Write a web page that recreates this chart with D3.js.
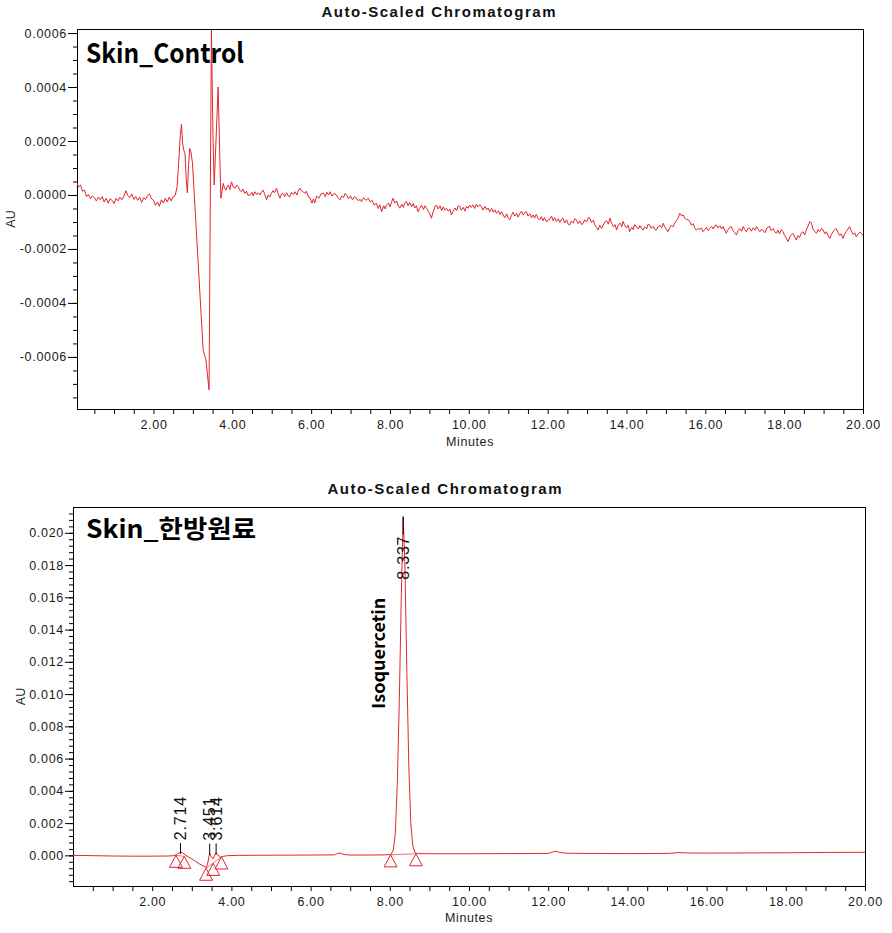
<!DOCTYPE html>
<html><head><meta charset="utf-8">
<script src="https://cdn.jsdelivr.net/npm/d3@7/dist/d3.min.js"></script>
<style>body{margin:0;background:#fff}svg{display:block}</style>
</head><body><svg id="c" width="892" height="933"></svg>
<script>
// ---------------- data ----------------
const chartTitle = "Auto-Scaled Chromatogram";
const panelNames = ["Skin_Control", "Skin_한방원료"];
const xAxisTitle = "Minutes";
const yAxisTitle = "AU";
const xLabelTicks = [2, 4, 6, 8, 10, 12, 14, 16, 18, 20];
const controlYTicks = [-0.0006, -0.0004, -0.0002, 0.0000, 0.0002, 0.0004, 0.0006];
const sampleYTicks = [0.000, 0.002, 0.004, 0.006, 0.008, 0.010, 0.012, 0.014, 0.016, 0.018, 0.020];

// Skin_Control trace: [minutes, signal in µAU]
const controlTrace = [
[0.06,44],[0.1,30],[0.15,36],[0.2,14],[0.25,18],[0.3,-6],[0.35,2],[0.4,-14],[0.45,-4],[0.5,-10],
[0.55,-22],[0.6,-8],[0.65,-18],[0.7,-6],[0.75,-26],[0.8,-12],[0.85,-30],[0.9,-14],[0.95,-20],[1.0,-32],
[1.05,-12],[1.1,-22],[1.15,-8],[1.2,-18],[1.25,-4],[1.3,16],[1.35,-2],[1.4,-10],[1.45,4],[1.5,-16],
[1.55,-6],[1.6,-20],[1.65,-8],[1.7,-28],[1.75,-10],[1.8,-16],[1.85,-2],[1.9,4],[1.95,-14],[2.0,-20],
[2.05,-38],[2.1,-26],[2.15,-42],[2.2,-18],[2.25,-30],[2.3,-12],[2.35,-26],[2.4,-8],[2.45,-22],[2.5,-6],
[2.55,-2],[2.6,30],[2.64,120],[2.68,220],[2.71,262],[2.74,190],[2.77,165],[2.8,155],[2.83,60],[2.86,8],
[2.89,110],[2.92,172],[2.95,160],[2.99,118],[3.26,-574],[3.33,-610],[3.41,-722],[3.47,610],[3.51,220],[3.54,37],
[3.58,180],[3.64,400],[3.68,160],[3.71,-12],[3.77,43],[3.8,26],[3.84,18],[3.87,30],[3.9,37],[3.94,20],
[3.98,49],[4.02,30],[4.07,25],[4.11,36],[4.15,31],[4.19,18],[4.23,12],[4.27,22],[4.32,6],[4.36,14],
[4.4,-2],[4.45,0],[4.5,10],[4.53,-4],[4.57,12],[4.62,2],[4.66,8],[4.7,0],[4.74,10],[4.78,18],
[4.82,4],[4.87,-18],[4.91,0],[4.95,-8],[4.99,6],[5.03,16],[5.07,8],[5.12,25],[5.16,6],[5.21,-12],
[5.25,4],[5.29,6],[5.33,-6],[5.38,8],[5.42,-4],[5.46,-6],[5.5,10],[5.55,2],[5.59,12],[5.64,0],
[5.67,14],[5.71,25],[5.75,16],[5.8,12],[5.84,6],[5.88,14],[5.93,-8],[5.97,-10],[6.02,-30],[6.06,-14],
[6.09,-30],[6.14,-4],[6.2,-12],[6.25,4],[6.31,7],[6.36,-6],[6.4,10],[6.44,0],[6.48,12],[6.53,-4],
[6.58,6],[6.64,0],[6.68,-10],[6.73,-18],[6.78,-4],[6.82,-10],[6.86,6],[6.9,0],[6.95,-14],[7.0,-4],
[7.05,-18],[7.1,-6],[7.15,-12],[7.2,-22],[7.24,-16],[7.28,-25],[7.33,-10],[7.39,-20],[7.45,-12],[7.5,-26],
[7.55,-20],[7.6,-38],[7.65,-30],[7.7,-50],[7.74,-36],[7.79,-62],[7.84,-40],[7.88,-52],[7.91,-37],[7.96,-30],
[8.0,-44],[8.04,-26],[8.08,-12],[8.12,-30],[8.17,-22],[8.21,-40],[8.25,-49],[8.3,-34],[8.34,-46],[8.38,-28],
[8.42,-25],[8.46,-40],[8.5,-28],[8.55,-44],[8.59,-31],[8.63,-48],[8.67,-40],[8.71,-62],[8.75,-50],[8.8,-38],
[8.85,-54],[8.89,-40],[8.93,-49],[8.97,-60],[9.01,-70],[9.05,-86],[9.1,-60],[9.14,-44],[9.18,-37],[9.22,-52],
[9.27,-40],[9.31,-58],[9.35,-44],[9.39,-56],[9.43,-49],[9.48,-60],[9.52,-52],[9.56,-74],[9.6,-60],[9.65,-48],
[9.69,-58],[9.73,-40],[9.77,-43],[9.81,-56],[9.86,-46],[9.9,-60],[9.94,-42],[9.98,-49],[10.02,-38],[10.06,-46],
[10.11,-37],[10.15,-50],[10.19,-34],[10.23,-44],[10.28,-36],[10.32,-43],[10.36,-56],[10.41,-42],[10.45,-55],[10.49,-48],
[10.53,-62],[10.58,-50],[10.62,-64],[10.66,-55],[10.7,-68],[10.75,-58],[10.79,-72],[10.83,-62],[10.87,-74],[10.91,-84],
[10.96,-70],[11.0,-86],[11.04,-92],[11.08,-76],[11.12,-64],[11.17,-78],[11.21,-68],[11.25,-82],[11.29,-70],[11.34,-60],
[11.38,-74],[11.42,-66],[11.46,-62],[11.5,-78],[11.55,-70],[11.59,-84],[11.63,-74],[11.67,-86],[11.71,-72],[11.76,-88],
[11.8,-92],[11.84,-80],[11.88,-96],[11.92,-84],[11.97,-100],[12.01,-92],[12.05,-90],[12.1,-78],[12.14,-96],[12.18,-84],
[12.22,-98],[12.27,-88],[12.31,-102],[12.35,-90],[12.39,-86],[12.43,-104],[12.48,-92],[12.52,-108],[12.56,-111],[12.6,-96],
[12.65,-104],[12.69,-88],[12.73,-92],[12.77,-106],[12.82,-96],[12.86,-110],[12.9,-105],[12.94,-92],[12.99,-100],[13.03,-84],
[13.07,-86],[13.11,-102],[13.16,-94],[13.2,-112],[13.24,-120],[13.28,-130],[13.32,-112],[13.37,-124],[13.41,-111],[13.45,-100],
[13.5,-96],[13.54,-108],[13.58,-86],[13.62,-104],[13.67,-118],[13.71,-110],[13.75,-130],[13.79,-112],[13.84,-104],[13.88,-118],
[13.91,-98],[13.96,-114],[14.0,-122],[14.04,-112],[14.08,-136],[14.13,-120],[14.17,-128],[14.21,-110],[14.25,-117],[14.3,-126],
[14.34,-114],[14.38,-124],[14.42,-130],[14.46,-118],[14.51,-126],[14.55,-108],[14.59,-111],[14.63,-124],[14.68,-116],[14.72,-128],
[14.76,-130],[14.8,-118],[14.85,-112],[14.89,-122],[14.93,-105],[14.97,-118],[15.01,-126],[15.05,-136],[15.1,-120],[15.14,-112],
[15.18,-118],[15.22,-105],[15.26,-96],[15.31,-86],[15.35,-68],[15.39,-76],[15.44,-74],[15.48,-86],[15.52,-92],[15.56,-90],
[15.6,-98],[15.65,-112],[15.69,-106],[15.73,-122],[15.77,-130],[15.82,-124],[15.86,-128],[15.9,-122],[15.94,-136],[15.99,-128],
[16.03,-120],[16.07,-132],[16.11,-124],[16.16,-116],[16.2,-126],[16.24,-114],[16.28,-111],[16.32,-122],[16.37,-114],[16.41,-126],
[16.45,-117],[16.49,-130],[16.53,-142],[16.58,-128],[16.62,-120],[16.66,-117],[16.7,-132],[16.75,-140],[16.79,-148],[16.83,-132],
[16.87,-124],[16.92,-134],[16.96,-117],[17.0,-128],[17.04,-136],[17.09,-122],[17.13,-124],[17.17,-134],[17.21,-122],[17.26,-130],
[17.3,-117],[17.34,-126],[17.38,-136],[17.42,-128],[17.46,-130],[17.51,-140],[17.55,-126],[17.59,-118],[17.63,-117],[17.67,-132],
[17.72,-124],[17.76,-136],[17.8,-142],[17.84,-130],[17.88,-144],[17.93,-128],[17.97,-136],[18.01,-150],[18.06,-162],[18.1,-173],
[18.14,-156],[18.18,-148],[18.22,-142],[18.27,-156],[18.31,-167],[18.35,-150],[18.39,-158],[18.44,-140],[18.48,-136],[18.52,-148],
[18.56,-130],[18.6,-118],[18.65,-98],[18.69,-104],[18.73,-126],[18.77,-134],[18.82,-142],[18.86,-128],[18.9,-136],[18.95,-124],
[18.99,-130],[19.03,-144],[19.07,-136],[19.12,-152],[19.16,-161],[19.2,-146],[19.24,-136],[19.28,-128],[19.32,-124],[19.37,-140],
[19.41,-150],[19.45,-144],[19.49,-161],[19.53,-146],[19.58,-134],[19.62,-126],[19.66,-117],[19.7,-132],[19.75,-146],[19.79,-140],
[19.83,-155],[19.87,-146],[19.92,-138],[19.96,-142],[20.0,-150]
];

// Skin_한방원료 trace: [minutes, AU]
const sampleTrace = [
[0.0,0.00000],[0.5,-0.00002],[1.0,-0.00004],[1.5,-0.00005],[2.0,-0.00005],[2.4,-0.00004],[2.55,-0.00002],
[2.62,0.00006],[2.68,0.00016],[2.72,0.00020],[2.77,0.00015],[2.83,0.00004],[2.9,-0.00008],[3.0,-0.00022],
[3.1,-0.00038],[3.2,-0.00054],[3.3,-0.00068],[3.37,-0.00075],[3.41,-0.00040],[3.45,0.00014],[3.49,-0.00008],
[3.54,-0.00022],[3.58,0.00002],[3.61,0.00016],[3.66,0.00002],[3.72,-0.00010],[3.8,-0.00006],[3.9,-0.00002],
[4.2,0.00000],[5.0,0.00001],[6.0,0.00002],[6.6,0.00003],[6.68,0.00012],[6.75,0.00014],[6.85,0.00005],
[7.0,0.00002],[7.5,0.00002],[7.9,0.00003],[8.0,0.00005],[8.04,0.00008],[8.09,0.00035],[8.14,0.00140],
[8.19,0.00450],[8.24,0.00960],[8.29,0.01600],[8.337,0.02100],[8.38,0.01820],[8.43,0.01150],[8.48,0.00560],
[8.53,0.00200],[8.58,0.00060],[8.63,0.00020],[8.7,0.00011],[9.0,0.00010],[10.0,0.00010],[11.0,0.00011],
[12.0,0.00012],[12.1,0.00020],[12.2,0.00026],[12.3,0.00017],[12.5,0.00013],[13.0,0.00012],[14.0,0.00011],
[15.0,0.00012],[15.3,0.00017],[15.5,0.00015],[16.0,0.00014],[17.0,0.00015],[18.0,0.00016],[19.0,0.00018],[20.0,0.00019]
];

// integrated peaks: retention time, apex height (AU)
const peakTimes = [2.714, 3.451, 3.614, 8.337];
const peakApex = [0.00020, 0.00016, 0.00018, 0.02100];
const peakTimeLabels = ["2.714", "3.451", "3.614", "8.337"];
// peak start / end markers: [minutes, AU]
const peakMarkers = [[2.60, 0.00000], [2.81, -0.00006], [3.36, -0.00080], [3.54, -0.00050], [3.75, -0.00010], [8.02, 0.00003], [8.66, 0.00010]];
const integrationBaselines = [[0, 1], [2, 4], [5, 6]];
const compoundNames = ["Isoquercetin"];
const compoundTimes = [8.337];

// ---------------- drawing ----------------
const svg = d3.select("#c");
const RED = "#e2252b";
const tickFont = "'Liberation Sans', Arial, sans-serif";

const panels = [
  { name: panelNames[0], trace: controlTrace, unit: 1e-6, xDomain: [0.06, 20], yDomain: [-0.000793, 0.000615],
    box: {l: 77, r: 863, t: 29, b: 409}, yMajor: controlYTicks, yMinor: d3.range(-15, 13).map(i => i * 0.00005),
    digits: 4, titleX: 438.5, titleY: 17, nameSize: 27, nameLen: 158, nameY: 63, auX: 15, minY: 446, major: 9 },
  { name: panelNames[1], trace: sampleTrace, unit: 1, xDomain: [0, 20], yDomain: [-0.0019, 0.0216],
    box: {l: 73, r: 865, t: 507, b: 886}, yMajor: sampleYTicks, yMinor: d3.range(-4, 54).map(i => i * 0.0004),
    digits: 3, titleX: 444.5, titleY: 494, nameSize: 25, nameLen: 170, nameY: 538, auX: 25, minY: 922, major: 8 }
];

panels.forEach((p, pi) => {
  const B = p.box;
  const x = d3.scaleLinear().domain(p.xDomain).range([B.l, B.r]);
  const y = d3.scaleLinear().domain(p.yDomain).range([B.b, B.t]);
  const g = svg.append("g");

  // title
  g.append("text").attr("x", p.titleX).attr("y", p.titleY).attr("text-anchor", "middle")
    .attr("font-family", tickFont).attr("font-weight", "bold").attr("font-size", 15)
    .attr("textLength", 234).attr("lengthAdjust", "spacing").attr("fill", "#111").text(chartTitle);

  // clip
  const cid = "clip" + pi;
  svg.append("clipPath").attr("id", cid).append("rect")
    .attr("x", B.l).attr("y", B.t).attr("width", B.r - B.l).attr("height", B.b - B.t);

  // y axis minor + major
  const yMinorAxis = d3.axisLeft(y).tickValues(p.yMinor).tickSize(4).tickFormat("").tickSizeOuter(0);
  const ya = g.append("g").attr("transform", `translate(${B.l},0)`).call(yMinorAxis);
  ya.select(".domain").remove();
  const yMajorAxis = d3.axisLeft(y).tickValues(p.yMajor).tickSize(p.major).tickPadding(1)
    .tickFormat(d => d.toFixed(p.digits)).tickSizeOuter(0);
  const yb = g.append("g").attr("transform", `translate(${B.l},0)`).call(yMajorAxis);
  yb.select(".domain").remove();
  yb.selectAll("text").attr("font-family", tickFont).attr("font-size", 12.5).attr("letter-spacing", 0.7).attr("fill", "#1a1a1a");

  // x axis
  const xTicks = d3.range(1, 41).map(i => i * 0.5).filter(v => v >= p.xDomain[0]);
  const xAxis = d3.axisBottom(x).tickValues(xTicks).tickSize(5).tickPadding(6.5)
    .tickFormat(d => xLabelTicks.includes(d) ? d.toFixed(2) : "").tickSizeOuter(0);
  const xa = g.append("g").attr("transform", `translate(0,${B.b})`).call(xAxis);
  xa.select(".domain").remove();
  xa.selectAll("text").attr("font-family", tickFont).attr("font-size", 12.5).attr("letter-spacing", 0.7).attr("fill", "#1a1a1a");
  svg.selectAll(".tick line").attr("stroke", "#000");

  // frame
  g.append("rect").attr("x", B.l + 0.5).attr("y", B.t + 0.5).attr("width", B.r - B.l).attr("height", B.b - B.t)
    .attr("fill", "none").attr("stroke", "#000").attr("stroke-width", 1);

  // axis titles
  g.append("text").attr("transform", `translate(${p.auX},${(B.t + B.b) / 2}) rotate(-90)`).attr("text-anchor", "middle")
    .attr("font-family", tickFont).attr("font-size", 12.5).attr("fill", "#1a1a1a").text(yAxisTitle);
  g.append("text").attr("x", (B.l + B.r) / 2).attr("y", p.minY).attr("text-anchor", "middle")
    .attr("font-family", tickFont).attr("font-size", 12.5).attr("letter-spacing", 0.6).attr("fill", "#1a1a1a").text(xAxisTitle);

  // trace
  const line = d3.line().x(d => x(d[0])).y(d => y(d[1] * p.unit));
  g.append("path").datum(p.trace).attr("clip-path", `url(#${cid})`).attr("d", line)
    .attr("fill", "none").attr("stroke", RED).attr("stroke-width", 1).attr("stroke-linejoin", "round");

  // panel name
  g.append("text").attr("x", 86).attr("y", p.nameY).attr("font-family", "'Noto Sans CJK KR', 'Noto Sans', sans-serif")
    .attr("font-weight", "bold").attr("font-size", p.nameSize).attr("textLength", p.nameLen)
    .attr("lengthAdjust", "spacingAndGlyphs").attr("fill", "#000").text(p.name);

  if (pi === 1) {
    // integration baselines
    integrationBaselines.forEach(([a, b]) => {
      g.append("line").attr("x1", x(peakMarkers[a][0])).attr("y1", y(peakMarkers[a][1]))
        .attr("x2", x(peakMarkers[b][0])).attr("y2", y(peakMarkers[b][1]))
        .attr("stroke", RED).attr("stroke-width", 0.8).attr("opacity", 0.8);
    });
    // start / end triangles
    g.selectAll("path.mk").data(peakMarkers).enter().append("path").attr("class", "mk")
      .attr("d", d => { const cx = x(d[0]), cy = y(d[1]); return `M${cx},${cy}L${cx - 6.5},${cy + 12}L${cx + 6.5},${cy + 12}Z`; })
      .attr("fill", "none").attr("stroke", RED).attr("stroke-width", 1);
    // peak time labels
    peakTimes.forEach((t, i) => {
      const px = x(t), ay = y(peakApex[i]);
      const high = ay - 60 < B.t;
      let l1, l2, ty, anchor;
      if (high) { l1 = ay; l2 = ay + 18; ty = ay + 19; anchor = "end"; }
      else { l1 = ay + 2; l2 = ay - 9; ty = ay - 12; anchor = "start"; }
      g.append("line").attr("x1", px).attr("x2", px).attr("y1", l1).attr("y2", l2).attr("stroke", "#000").attr("stroke-width", 1);
      g.append("text").attr("transform", `translate(${px},${ty}) rotate(-90)`).attr("text-anchor", anchor)
        .attr("dy", "0.36em").attr("font-family", tickFont).attr("font-size", 16).attr("letter-spacing", 0.8)
        .attr("fill", "#111").text(peakTimeLabels[i]);
    });
    // compound name
    compoundNames.forEach((n, i) => {
      g.append("text").attr("transform", `translate(${x(compoundTimes[i]) - 24},${y(peakApex[3]) + 192}) rotate(-90)`)
        .attr("text-anchor", "start").attr("dy", "0.36em").attr("font-family", "'Noto Sans CJK KR', 'Noto Sans', sans-serif")
        .attr("font-weight", "bold").attr("font-size", 17).attr("textLength", 111).attr("lengthAdjust", "spacingAndGlyphs")
        .attr("fill", "#000").text(n);
    });
  }
});
</script></body></html>
